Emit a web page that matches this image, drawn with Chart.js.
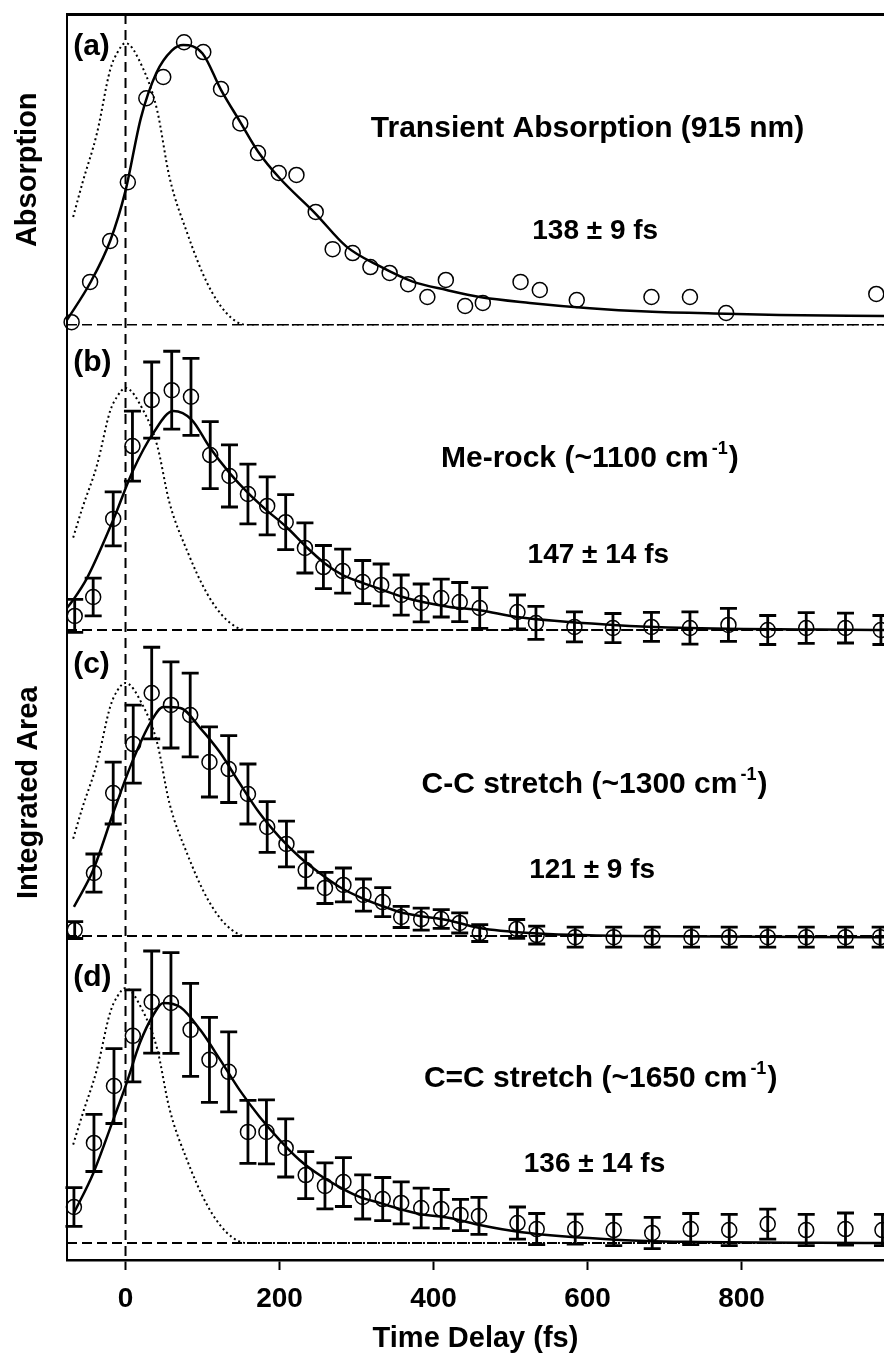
<!DOCTYPE html>
<html>
<head>
<meta charset="utf-8">
<title>Time-resolved kinetics</title>
<script src="https://cdn.jsdelivr.net/npm/chart.js@4.4.0/dist/chart.umd.min.js"></script>
<style>
    html, body { margin: 0; padding: 0; background: #fff; }
    #wrap { width: 884px; height: 1357px; }
</style>
</head>
<body>
<div id="wrap"><canvas id="kinetics" width="884" height="1357"></canvas></div>
<script>
// ---- data (time in fs, signal normalised per panel) ----

const xTicks = [0, 200, 400, 600, 800];

// (a) transient absorption, 915 nm
const timeA = [-70, -46, -20, 3, 27, 49, 76, 101, 124, 149, 172, 199, 222, 247, 269, 295, 318, 343, 367, 392,
               416, 441, 464, 513, 538, 586, 683, 733, 780, 975];
const sigA = [0.01, 0.154, 0.30, 0.51, 0.81, 0.886, 1.01, 0.975, 0.843, 0.72, 0.614, 0.543, 0.536, 0.404, 0.271,
              0.257, 0.207, 0.186, 0.146, 0.10, 0.161, 0.068, 0.079, 0.154, 0.125, 0.089, 0.10, 0.10, 0.043, 0.111];
const fitTimeA = [-76, -46, -20, 0, 20, 40, 60, 75, 100, 124, 149, 172, 200, 246, 287, 330, 373, 417, 460, 525,
                  603, 677, 780, 849, 985];
const fitA = [0.018, 0.15, 0.30, 0.48, 0.74, 0.90, 0.98, 1.0, 0.97, 0.84, 0.725, 0.62, 0.525, 0.40, 0.28, 0.21,
              0.155, 0.125, 0.10, 0.079, 0.06, 0.048, 0.04, 0.036, 0.032];

// (b) Me-rock
const timeB = [-66, -42, -16, 9, 34, 60, 85, 110, 135, 159, 184, 208, 233, 257, 282, 308, 332, 358, 384, 410,
               434, 460, 509, 533, 583, 633, 683, 733, 783, 834, 884, 935, 981];
const sigB = [0.064, 0.15, 0.505, 0.836, 1.045, 1.09, 1.06, 0.795, 0.70, 0.618, 0.564, 0.49, 0.373, 0.286, 0.268,
              0.218, 0.205, 0.159, 0.123, 0.145, 0.127, 0.10, 0.082, 0.032, 0.014, 0.009, 0.014, 0.009, 0.023, 0.0,
              0.009, 0.009, 0.0];
const errB = [0.075, 0.086, 0.123, 0.159, 0.173, 0.177, 0.175, 0.152, 0.141, 0.136, 0.132, 0.125, 0.114, 0.098,
              0.10, 0.098, 0.095, 0.091, 0.086, 0.086, 0.089, 0.093, 0.077, 0.075, 0.068, 0.066, 0.066, 0.073,
              0.075, 0.066, 0.07, 0.068, 0.066];
const fitTimeB = [-76, -70, -50, -16, 10, 36, 62, 86, 109, 135, 159, 183, 209, 235, 258, 282, 308, 334, 360, 386,
                  421, 460, 509, 633, 733, 985];
const fitB = [0.10, 0.127, 0.236, 0.50, 0.727, 0.895, 0.995, 0.955, 0.832, 0.714, 0.623, 0.545, 0.468, 0.377,
              0.305, 0.25, 0.214, 0.182, 0.15, 0.127, 0.105, 0.09, 0.059, 0.023, 0.009, 0.0];

// (c) C-C stretch
const timeC = [-66, -41, -16, 10, 34, 59, 84, 109, 134, 159, 184, 209, 234, 259, 283, 309, 334, 358, 384, 410,
               434, 460, 508, 534, 584, 634, 684, 735, 784, 834, 884, 935, 980];
const sigC = [0.026, 0.275, 0.624, 0.838, 1.061, 1.009, 0.965, 0.76, 0.729, 0.62, 0.476, 0.402, 0.288, 0.21, 0.223,
              0.179, 0.148, 0.083, 0.074, 0.074, 0.057, 0.013, 0.031, 0.004, -0.005, -0.005, -0.005, -0.005,
              -0.005, -0.005, -0.005, -0.005, -0.005];
const errC = [0.037, 0.083, 0.135, 0.17, 0.20, 0.188, 0.183, 0.153, 0.146, 0.131, 0.111, 0.10, 0.079, 0.068, 0.074,
              0.07, 0.063, 0.046, 0.048, 0.041, 0.044, 0.037, 0.041, 0.039, 0.044, 0.044, 0.044, 0.044, 0.044,
              0.044, 0.044, 0.044, 0.044];
const fitTimeC = [-67, -42, -16, 8, 32, 49, 71, 97, 123, 148, 174, 200, 226, 252, 278, 304, 330, 356, 382, 417,
                  460, 525, 655, 985];
const fitC = [0.127, 0.288, 0.537, 0.755, 0.93, 1.0, 0.996, 0.908, 0.80, 0.668, 0.537, 0.432, 0.345, 0.275, 0.214,
              0.17, 0.135, 0.105, 0.087, 0.07, 0.035, 0.013, 0.0, -0.005];

// (d) C=C stretch
const timeD = [-67, -41, -15, 9.5, 34, 59, 84.5, 109, 134, 159, 183, 208, 234, 259, 283, 308, 334, 358, 384, 410,
               435, 459, 509, 534, 584, 634, 684, 734, 784, 834, 884, 935, 983];
const sigD = [0.15, 0.417, 0.654, 0.863, 1.004, 1.0, 0.888, 0.763, 0.713, 0.463, 0.463, 0.396, 0.283, 0.238, 0.254,
              0.192, 0.183, 0.167, 0.146, 0.142, 0.117, 0.113, 0.083, 0.058, 0.058, 0.054, 0.042, 0.058, 0.054,
              0.079, 0.054, 0.058, 0.054];
const errD = [0.081, 0.119, 0.156, 0.192, 0.2125, 0.21, 0.194, 0.177, 0.167, 0.131, 0.133, 0.121, 0.098, 0.096,
              0.102, 0.092, 0.09, 0.0875, 0.083, 0.081, 0.065, 0.077, 0.067, 0.065, 0.0625, 0.065, 0.065, 0.065,
              0.065, 0.0625, 0.065, 0.067, 0.065];
const fitTimeD = [-67, -42, -16, 1.5, 18.6, 36, 49, 71, 97, 123, 148, 174, 200, 226, 252, 278, 304, 330, 356, 382,
                  421, 460, 512, 642, 728, 985];
const fitD = [0.125, 0.29, 0.513, 0.667, 0.833, 0.95, 1.0, 0.983, 0.888, 0.763, 0.638, 0.526, 0.43, 0.346, 0.283,
              0.233, 0.192, 0.167, 0.142, 0.121, 0.104, 0.075, 0.046, 0.013, 0.005, 0.0];

// instrument response (dotted), one trace per panel
const irfTime = [-68, -56, -37, -20, -11, 0, 22, 41, 57, 80, 106, 131, 157, 985];
const irfA = [0.386, 0.507, 0.686, 0.911, 0.971, 1.007, 0.921, 0.768, 0.529, 0.329, 0.15, 0.043, 0.0, 0.0];
const irfB = [0.42, 0.555, 0.75, 0.995, 1.06, 1.10, 1.005, 0.84, 0.58, 0.36, 0.165, 0.047, 0.0, 0.0];
const irfC = [0.425, 0.56, 0.755, 1.0, 1.07, 1.105, 1.01, 0.845, 0.58, 0.36, 0.165, 0.047, 0.0, 0.0];
const irfD = [0.41, 0.535, 0.725, 0.96, 1.025, 1.062, 0.97, 0.81, 0.56, 0.345, 0.158, 0.045, 0.0, 0.0];

// text
const panelLabels = ['(a)', '(b)', '(c)', '(d)'];
const panelTitles = ['Transient Absorption (915 nm)', 'Me-rock (~1100 cm', 'C-C stretch (~1300 cm', 'C=C stretch (~1650 cm'];
const titleSup = ['', '-1', '-1', '-1'];
const titleTail = ['', ')', ')', ')'];
const lifetimes = ['138 \u00b1 9 fs', '147 \u00b1 14 fs', '121 \u00b1 9 fs', '136 \u00b1 14 fs'];

// ---- layout ----

const FONT = '"Liberation Sans", Arial, Helvetica, sans-serif';
const X_MIN = -76;
const X_MAX = 985;

// each panel: its own y axis in a vertical stack, range chosen so the zero line sits where it does in the figure
const panels = [
    { id: 'yA', time: timeA, sig: sigA, err: null, fitT: fitTimeA, fit: fitA, irf: irfA, min: -0.0018, max: 1.111, weight: 4 },
    { id: 'yB', time: timeB, sig: sigB, err: errB, fitT: fitTimeB, fit: fitB, irf: irfB, min: -0.0318, max: 1.384, weight: 3 },
    { id: 'yC', time: timeC, sig: sigC, err: errC, fitT: fitTimeC, fit: fitC, irf: irfC, min: -0.0546, max: 1.3057, weight: 2 },
    { id: 'yD', time: timeD, sig: sigD, err: errD, fitT: fitTimeD, fit: fitD, irf: irfD, min: -0.0708, max: 1.227, weight: 1 }
];

// text anchors in each panel's own units (x in fs)
const labelPos = [{ x: -68, y: 0.964 }, { x: -68, y: 1.177 }, { x: -68, y: 1.148 }, { x: -68, y: 1.071 }];
const titlePos = [{ x: 600, y: 0.671 }, { x: 603, y: 0.742 }, { x: 609, y: 0.624 }, { x: 617, y: 0.65 }];
const tauPos = [{ x: 610, y: 0.307 }, { x: 614, y: 0.305 }, { x: 606, y: 0.253 }, { x: 609, y: 0.296 }];

const toPoints = (xs, ys) => xs.map((x, i) => ({ x: x, y: ys[i] }));

const datasets = [];
panels.forEach(p => {
    datasets.push({
        label: p.id + ' zero',
        data: [{ x: X_MIN, y: 0 }, { x: X_MAX, y: 0 }],
        xAxisID: 'x', yAxisID: p.id,
        borderColor: '#000', borderWidth: 2, borderDash: [10, 5],
        pointRadius: 0
    });
    datasets.push({
        label: p.id + ' irf',
        data: toPoints(irfTime, p.irf),
        xAxisID: 'x', yAxisID: p.id,
        borderColor: '#000', borderWidth: 2, borderDash: [2, 3],
        cubicInterpolationMode: 'monotone',
        pointRadius: 0
    });
    datasets.push({
        label: p.id + ' fit',
        data: toPoints(p.fitT, p.fit),
        xAxisID: 'x', yAxisID: p.id,
        borderColor: '#000', borderWidth: 2.5,
        cubicInterpolationMode: 'monotone',
        pointRadius: 0
    });
    datasets.push({
        label: p.id + ' data',
        data: toPoints(p.time, p.sig),
        errors: p.err,
        xAxisID: 'x', yAxisID: p.id,
        showLine: false,
        pointStyle: 'circle', pointRadius: 7.5, pointBorderWidth: 1.5,
        pointBorderColor: '#000', pointBackgroundColor: 'rgba(0,0,0,0)',
        clip: false
    });
});

// error bars with caps, through each panel's y scale
const errorBars = {
    id: 'errorBars',
    afterDatasetsDraw(chart) {
        const ctx = chart.ctx;
        chart.data.datasets.forEach((ds, i) => {
            if (!ds.errors) return;
            const meta = chart.getDatasetMeta(i);
            const yScale = chart.scales[ds.yAxisID];
            ctx.save();
            ctx.strokeStyle = '#000';
            ctx.lineWidth = 2.8;
            meta.data.forEach((pt, j) => {
                const v = ds.data[j].y;
                const e = ds.errors[j];
                const top = yScale.getPixelForValue(v + e);
                const bot = yScale.getPixelForValue(v - e);
                ctx.beginPath();
                ctx.moveTo(pt.x, top); ctx.lineTo(pt.x, bot);
                ctx.moveTo(pt.x - 8.5, top); ctx.lineTo(pt.x + 8.5, top);
                ctx.moveTo(pt.x - 8.5, bot); ctx.lineTo(pt.x + 8.5, bot);
                ctx.stroke();
            });
            ctx.restore();
        });
    }
};

// dashed time-zero line and the panel texts
const panelText = {
    id: 'panelText',
    beforeDatasetsDraw(chart) {
        const ctx = chart.ctx;
        const area = chart.chartArea;
        const x0 = chart.scales.x.getPixelForValue(0);
        ctx.save();
        ctx.strokeStyle = '#000';
        ctx.lineWidth = 2;
        ctx.setLineDash([10, 6]);
        ctx.beginPath();
        ctx.moveTo(x0, area.top);
        ctx.lineTo(x0, area.bottom);
        ctx.stroke();
        ctx.restore();
    },
    afterDraw(chart) {
        const ctx = chart.ctx;
        const xs = chart.scales.x;
        ctx.save();
        ctx.fillStyle = '#000';
        ctx.textBaseline = 'alphabetic';
        panels.forEach((p, i) => {
            const ys = chart.scales[p.id];

            ctx.font = 'bold 30px ' + FONT;
            ctx.textAlign = 'left';
            ctx.fillText(panelLabels[i], xs.getPixelForValue(labelPos[i].x), ys.getPixelForValue(labelPos[i].y));

            // title, with a small raised "-1" where needed
            const tx = xs.getPixelForValue(titlePos[i].x);
            const ty = ys.getPixelForValue(titlePos[i].y);
            ctx.font = 'bold 30px ' + FONT;
            const w1 = ctx.measureText(panelTitles[i]).width;
            const w3 = ctx.measureText(titleTail[i]).width;
            ctx.font = 'bold 18px ' + FONT;
            const w2 = titleSup[i] ? ctx.measureText(titleSup[i]).width + 4 : 0;
            let cx = tx - (w1 + w2 + w3) / 2;
            ctx.font = 'bold 30px ' + FONT;
            ctx.fillText(panelTitles[i], cx, ty);
            cx += w1;
            if (titleSup[i]) {
                ctx.font = 'bold 18px ' + FONT;
                ctx.fillText(titleSup[i], cx + 3, ty - 13);
                cx += w2;
            }
            ctx.font = 'bold 30px ' + FONT;
            ctx.fillText(titleTail[i], cx, ty);

            ctx.font = 'bold 28px ' + FONT;
            ctx.textAlign = 'center';
            ctx.fillText(lifetimes[i], xs.getPixelForValue(tauPos[i].x), ys.getPixelForValue(tauPos[i].y));
        });
        ctx.restore();
    }
};

const scales = {
    x: {
        type: 'linear', position: 'bottom', min: X_MIN, max: X_MAX,
        afterBuildTicks: s => { s.ticks = xTicks.map(v => ({ value: v })); },
        afterFit: s => { s.height = 97; },
        ticks: { color: '#000', padding: 12, font: { family: FONT, size: 28, weight: 'bold' } },
        grid: { display: true, drawOnChartArea: false, drawTicks: true, tickLength: 10, tickWidth: 2, tickColor: '#000' },
        border: { display: true, color: '#000', width: 2.5 },
        title: {
            display: true, text: 'Time Delay (fs)', color: '#000',
            font: { family: FONT, size: 29, weight: 'bold' }, padding: { top: 0, bottom: 1 }
        }
    },
    xTop: {
        type: 'linear', position: 'top', min: X_MIN, max: X_MAX,
        ticks: { display: false },
        grid: { display: false, drawTicks: false },
        border: { display: true, color: '#000', width: 3 }
    }
};

panels.forEach(p => {
    scales[p.id] = {
        type: 'linear', position: 'left', stack: 'panels', stackWeight: 1, weight: p.weight,
        min: p.min, max: p.max,
        afterFit: s => { s.width = 67; },
        ticks: { display: false },
        grid: { display: false, drawTicks: false },
        border: { display: true, color: '#000', width: 2 }
    };
});
scales.yA.title = {
    display: true, text: 'Absorption', color: '#000',
    font: { family: FONT, size: 29, weight: 'bold' }, padding: { top: 11, bottom: 0 }
};
scales.yC.title = {
    display: true, text: 'Integrated Area', color: '#000',
    font: { family: FONT, size: 29, weight: 'bold' }, padding: { top: 12, bottom: 0 }
};

new Chart(document.getElementById('kinetics'), {
    type: 'line',
    data: { datasets: datasets },
    options: {
        responsive: false,
        animation: false,
        devicePixelRatio: 1,
        layout: { autoPadding: false, padding: { left: 0, top: 14, right: 0, bottom: 0 } },
        plugins: {
            legend: { display: false },
            tooltip: { enabled: false }
        },
        scales: scales
    },
    plugins: [panelText, errorBars]
});
</script>
</body>
</html>
